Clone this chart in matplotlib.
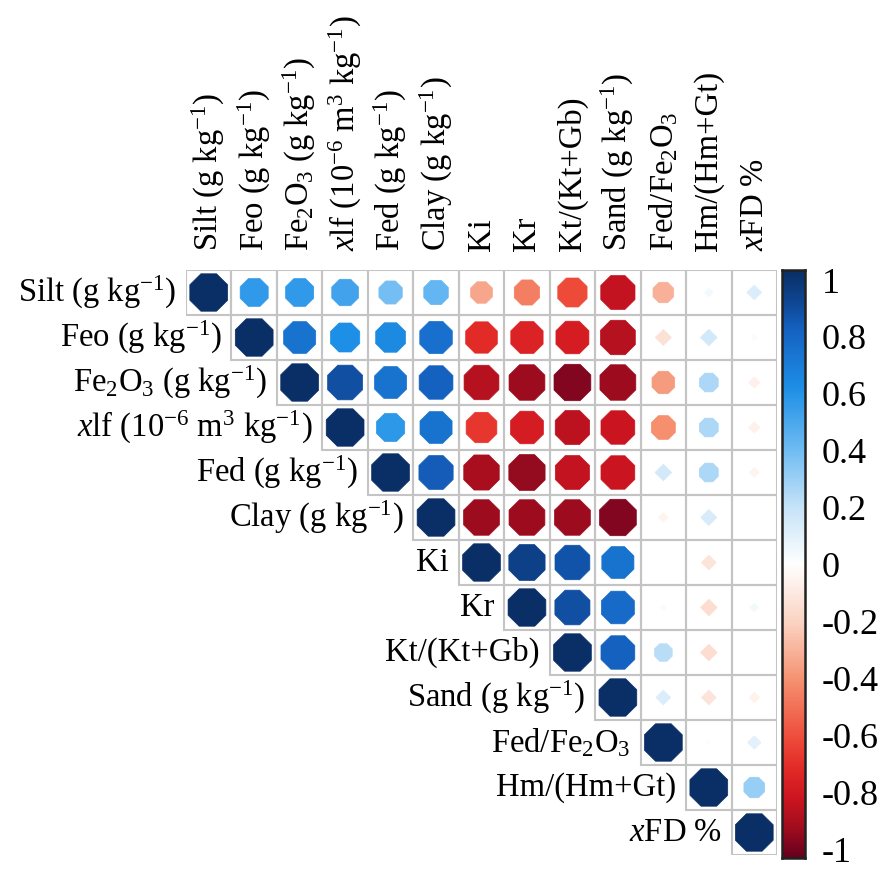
import numpy as np
import matplotlib
matplotlib.use("Agg")
import matplotlib.pyplot as plt
from matplotlib.colors import LinearSegmentedColormap, Normalize
from matplotlib.patches import RegularPolygon, Rectangle

plt.rcParams['font.family'] = ['Liberation Serif', 'DejaVu Serif']
plt.rcParams['mathtext.fontset'] = 'custom'
plt.rcParams['mathtext.rm'] = 'Liberation Serif'
plt.rcParams['mathtext.it'] = 'Liberation Serif:italic'

# ---- data ----
labels = [
    r'Silt (g kg$^{-1}$)',
    r'Feo (g kg$^{-1}$)',
    r'Fe$_2$O$_3$ (g kg$^{-1}$)',
    r'$\mathit{x}$lf (10$^{-6}$ m$^3$ kg$^{-1}$)',
    r'Fed (g kg$^{-1}$)',
    r'Clay (g kg$^{-1}$)',
    'Ki',
    'Kr',
    'Kt/(Kt+Gb)',
    r'Sand (g kg$^{-1}$)',
    r'Fed/Fe$_2$O$_3$',
    'Hm/(Hm+Gt)',
    r'$\mathit{x}$FD %',
]

# upper triangle rows (from diagonal to the right)
row_silt = [1.0, 0.55, 0.55, 0.50, 0.38, 0.42, -0.33, -0.45, -0.60, -0.82, -0.30, 0.04, 0.12]
row_feo = [1.0, 0.72, 0.60, 0.62, 0.74, -0.70, -0.73, -0.76, -0.85, -0.14, 0.15, 0.02]
row_fe2o3 = [1.0, 0.86, 0.72, 0.80, -0.85, -0.90, -0.95, -0.90, -0.36, 0.25, -0.07]
row_xlf = [1.0, 0.56, 0.72, -0.66, -0.76, -0.83, -0.80, -0.40, 0.25, -0.07]
row_fed = [1.0, 0.82, -0.88, -0.92, -0.82, -0.80, 0.15, 0.25, -0.05]
row_clay = [1.0, -0.90, -0.90, -0.90, -0.95, -0.05, 0.14, 0.0]
row_ki = [1.0, 0.92, 0.85, 0.72, 0.0, -0.12, 0.0]
row_kr = [1.0, 0.86, 0.76, 0.02, -0.15, 0.04]
row_kt = [1.0, 0.80, 0.22, -0.15, 0.0]
row_sand = [1.0, 0.12, -0.12, -0.06]
row_fedfe = [1.0, 0.01, 0.10]
row_hm = [1.0, 0.30]
row_xfd = [1.0]

rows = [row_silt, row_feo, row_fe2o3, row_xlf, row_fed, row_clay, row_ki,
        row_kr, row_kt, row_sand, row_fedfe, row_hm, row_xfd]

cbar_ticks = [1, 0.8, 0.6, 0.4, 0.2, 0, -0.2, -0.4, -0.6, -0.8, -1]
cbar_ticklabels = ['1', '0.8', '0.6', '0.4', '0.2', '0', '-0.2', '-0.4', '-0.6', '-0.8', '-1']

# ---- colormap ----
anchors = [
    (0.00, '#67001F'),
    (0.05, '#A00D1E'),
    (0.10, '#CC1520'),
    (0.15, '#E22A27'),
    (0.20, '#EE4A3A'),
    (0.30, '#F5906F'),
    (0.40, '#FBD3C2'),
    (0.50, '#FFFFFF'),
    (0.60, '#C4E2F8'),
    (0.70, '#6BBAF2'),
    (0.80, '#1E8FE6'),
    (0.90, '#1562C2'),
    (0.95, '#0E4590'),
    (1.00, '#0A2F66'),
]
cmap = LinearSegmentedColormap.from_list('corr', anchors)
norm = Normalize(-1, 1)

W, H = 890, 872
fig = plt.figure(figsize=(W / 100, H / 100), dpi=100)

n = len(labels)
gx0, gx1 = 186, 777
gy0, gy1 = 270, 855
ax = fig.add_axes([gx0 / W, 1 - gy1 / H, (gx1 - gx0) / W, (gy1 - gy0) / H])
ax.set_xlim(-0.5, n - 0.5)
ax.set_ylim(n - 0.5, -0.5)
ax.axis('off')

grid_col = '#C4C4C4'
for i, row in enumerate(rows):
    for k, r in enumerate(row):
        j = i + k
        ax.add_patch(Rectangle((j - 0.5, i - 0.5), 1, 1, fill=False,
                               edgecolor=grid_col, linewidth=1.5, zorder=1))
for i, row in enumerate(rows):
    for k, r in enumerate(row):
        j = i + k
        rad = 0.45 * np.sqrt(abs(r))
        if rad <= 0.005:
            continue
        col = cmap(norm(r))
        if abs(r) < 0.2:
            poly = RegularPolygon((j, i), numVertices=4, radius=rad * 1.05,
                                  orientation=0, facecolor=col, edgecolor=col,
                                  linewidth=0.5, zorder=2)
        else:
            poly = RegularPolygon((j, i), numVertices=8, radius=rad,
                                  orientation=np.pi / 8, facecolor=col,
                                  edgecolor=col, linewidth=0.5, zorder=2)
        ax.add_patch(poly)

fs = 23.5
for i, lab in enumerate(labels):
    ax.text(i - 0.5 - 0.22, i, lab, ha='right', va='center', fontsize=fs,
            clip_on=False)
    ax.text(i, -0.5 - 0.42, lab, ha='center', va='bottom', rotation=90,
            fontsize=fs, clip_on=False)

# ---- colorbar ----
bx0, bx1 = 782, 805
by0, by1 = 270, 858
cax = fig.add_axes([bx0 / W, 1 - by1 / H, (bx1 - bx0) / W, (by1 - by0) / H])
grad = np.linspace(-1, 1, 512).reshape(-1, 1)
cax.imshow(grad, aspect='auto', cmap=cmap, norm=norm, origin='lower',
           extent=[0, 1, -1, 1])
cax.set_xticks([])
cax.set_yticks([])
for s in cax.spines.values():
    s.set_linewidth(1.8)
    s.set_color('#222222')

ly0, ly1 = 280, 849
lax = fig.add_axes([bx0 / W, 1 - ly1 / H, (bx1 - bx0) / W, (ly1 - ly0) / H])
lax.set_ylim(-1, 1)
lax.patch.set_alpha(0)
for s in lax.spines.values():
    s.set_visible(False)
lax.set_xticks([])
lax.yaxis.tick_right()
lax.set_yticks(cbar_ticks)
lax.set_yticklabels(cbar_ticklabels)
lax.tick_params(axis='y', length=0, pad=12, labelsize=26)

fig.savefig('out.png', dpi=100)
